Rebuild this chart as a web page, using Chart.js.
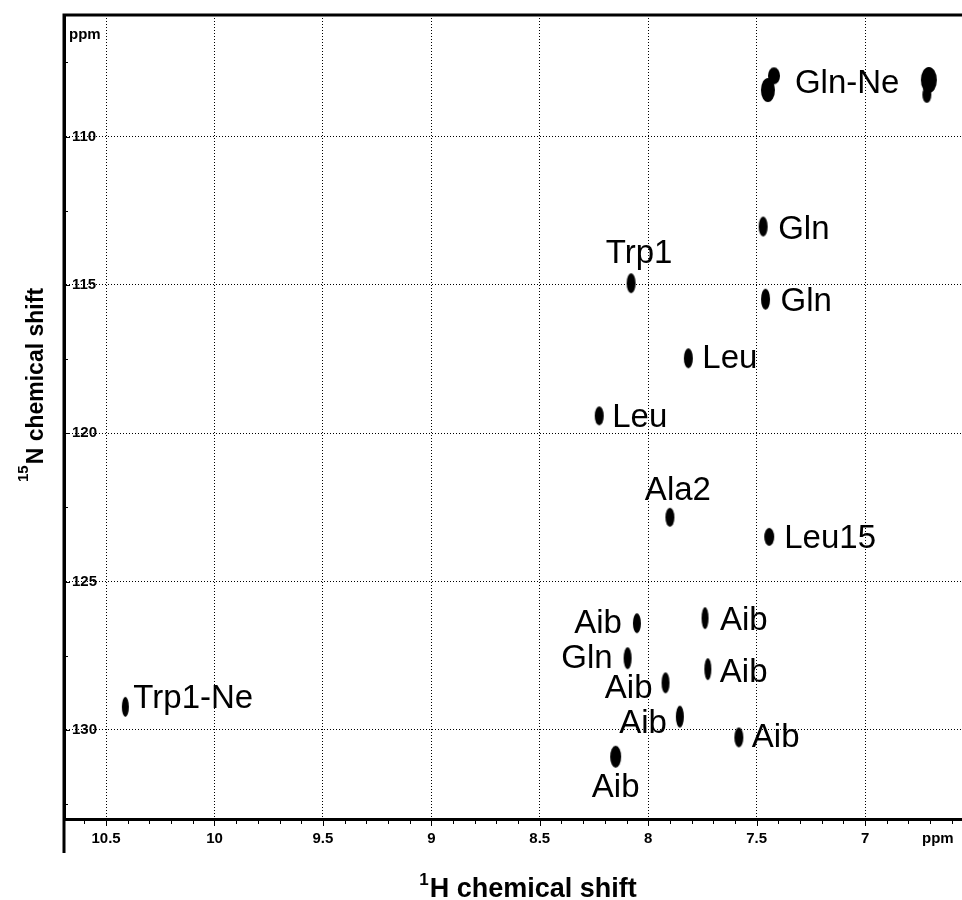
<!DOCTYPE html>
<html>
<head>
<meta charset="utf-8">
<title>1H-15N HSQC</title>
<script src="https://cdn.jsdelivr.net/npm/chart.js@4.4.1/dist/chart.umd.min.js"></script>
<style>
  html, body { margin: 0; padding: 0; background: #fff; }
  #wrap { width: 962px; height: 900px; position: relative; }
</style>
</head>
<body>
<div id="wrap"><canvas id="hsqc"></canvas></div>
<script>
// ── Data ─────────────────────────────────────────────────────
const peakNames = ['Gln-Ne', '', '', '', 'Gln', 'Gln', 'Trp1', 'Leu', 'Leu', 'Ala2', 'Leu15',
                   'Aib', 'Aib', 'Gln', 'Aib', 'Aib', 'Aib', 'Aib', 'Aib', 'Trp1-Ne'];
const shiftH = [7.448, 7.420, 6.706, 6.715, 7.470, 7.459, 8.079, 7.815, 8.226, 7.900, 7.442,
                8.052, 7.738, 8.095, 7.725, 7.920, 7.854, 7.582, 8.150, 10.411];
const shiftN = [108.43, 107.95, 108.09, 108.59, 113.03, 115.48, 114.94, 117.47, 119.41, 122.83, 123.49,
                126.40, 126.23, 127.58, 127.95, 128.41, 129.55, 130.25, 130.90, 129.22];
const hTicks = [10.5, 10, 9.5, 9, 8.5, 8, 7.5, 7];
const nTicks = [110, 115, 120, 125, 130];

// ── Look (blob size in px, label offset from peak in px) ─────
const blobSize = [[14, 24], [12, 17], [16, 26], [9, 16], [9, 20], [9, 21], [9, 20], [9, 20], [9, 19], [9, 19], [10, 18],
                  [8, 20], [7, 22], [8, 22], [7, 22], [8, 21], [8, 22], [9, 20], [11, 22], [7, 20]];
const labelPos = [[27, 3, 'left'], null, null, null, [15, 12, 'left'], [15, 12, 'left'], [8, -20, 'center'],
                  [14, 10, 'left'], [13, 11, 'left'], [8, -17, 'center'], [15, 11, 'left'],
                  [-15, 10, 'right'], [15, 12, 'left'], [-15, 10, 'right'], [12, 13, 'left'], [-13, 15, 'right'],
                  [-13, 16, 'right'], [13, 10, 'left'], [0, 40, 'center'], [8, 1, 'left']];

const FONT = '"Liberation Sans", Arial, Helvetica, sans-serif';

function blob(w, h) {
  const c = document.createElement('canvas');
  c.width = w + 2;
  c.height = h + 2;
  const g = c.getContext('2d');
  g.fillStyle = '#000';
  g.beginPath();
  g.ellipse(c.width / 2, c.height / 2, w / 2, h / 2, 0, 0, Math.PI * 2);
  g.fill();
  return c;
}

// ── Extra drawing: frame, minor ticks, titles, peak labels ───
const decor = {
  id: 'decor',
  afterDraw(chart) {
    const { ctx, chartArea: a, scales: { x, y } } = chart;
    ctx.save();
    ctx.strokeStyle = '#000';
    ctx.fillStyle = '#000';

    // top edge and the long left edge
    ctx.lineWidth = 3;
    ctx.beginPath();
    ctx.moveTo(a.left - 1.5, a.top);
    ctx.lineTo(chart.width, a.top);
    ctx.moveTo(a.left, a.top);
    ctx.lineTo(a.left, 853);
    ctx.stroke();

    // x ticks every 0.1 ppm, pointing down
    ctx.lineWidth = 1;
    ctx.beginPath();
    for (let i = 66; i <= 106; i++) {
      const px = Math.round(x.getPixelForValue(i / 10)) + 0.5;
      const len = i % 5 === 0 ? 6 : 4;
      ctx.moveTo(px, a.bottom + 1);
      ctx.lineTo(px, a.bottom + 1 + len);
    }
    // y ticks, pointing in
    for (let v = 107.5; v <= 132.5; v += 2.5) {
      const py = Math.round(y.getPixelForValue(v)) + 0.5;
      const len = v % 5 === 0 ? 5 : 3;
      ctx.moveTo(a.left + 1, py);
      ctx.lineTo(a.left + 1 + len, py);
    }
    ctx.stroke();

    // ppm units
    ctx.font = 'bold 15px ' + FONT;
    ctx.textAlign = 'left';
    ctx.textBaseline = 'alphabetic';
    ctx.fillText('ppm', 69, 39);
    ctx.fillText('ppm', 922, 843);

    // 1H title
    ctx.font = 'bold 17px ' + FONT;
    const w1 = ctx.measureText('1').width;
    ctx.font = 'bold 27px ' + FONT;
    const wx = ctx.measureText('H chemical shift').width;
    let sx = 528 - (w1 + 1 + wx) / 2;
    ctx.font = 'bold 17px ' + FONT;
    ctx.fillText('1', sx, 885);
    ctx.font = 'bold 27px ' + FONT;
    ctx.fillText('H chemical shift', sx + w1 + 1, 897);

    // 15N title
    ctx.save();
    ctx.translate(43, 385);
    ctx.rotate(-Math.PI / 2);
    ctx.font = 'bold 15px ' + FONT;
    const w15 = ctx.measureText('15').width;
    ctx.font = 'bold 23px ' + FONT;
    const wy = ctx.measureText('N chemical shift').width;
    sx = -(w15 + 1 + wy) / 2;
    ctx.font = 'bold 15px ' + FONT;
    ctx.fillText('15', sx, -15);
    ctx.font = 'bold 23px ' + FONT;
    ctx.fillText('N chemical shift', sx + w15 + 1, 0);
    ctx.restore();

    // peak labels
    ctx.font = '33px ' + FONT;
    peakNames.forEach((name, i) => {
      const p = labelPos[i];
      if (!name || !p) return;
      const px = x.getPixelForValue(shiftH[i]);
      const py = y.getPixelForValue(shiftN[i]);
      ctx.textAlign = p[2];
      ctx.fillText(name, px + p[0], py + p[1]);
    });
    ctx.restore();
  }
};

// ── Chart ────────────────────────────────────────────────────
new Chart(document.getElementById('hsqc'), {
  type: 'scatter',
  data: {
    datasets: [{
      data: shiftH.map((h, i) => ({ x: h, y: shiftN[i] })),
      pointStyle: blobSize.map(s => blob(s[0], s[1])),
      pointRadius: 3,
      showLine: false
    }]
  },
  options: {
    responsive: true,
    maintainAspectRatio: false,
    animation: false,
    events: [],
    layout: { autoPadding: false, padding: { top: 15, right: 0, left: 0, bottom: 0 } },
    plugins: { legend: { display: false }, tooltip: { enabled: false } },
    scales: {
      x: {
        type: 'linear',
        position: 'bottom',
        reverse: true,
        min: 6.553,
        max: 10.694,
        afterBuildTicks: s => { s.ticks = hTicks.map(v => ({ value: v })); },
        afterFit: s => { s.height = 81; s.paddingLeft = 0; s.paddingRight = 0; },
        ticks: {
          color: '#000',
          padding: 11,
          maxRotation: 0,
          autoSkip: false,
          font: { family: FONT, size: 15, weight: 'bold' },
          callback: v => String(v)
        },
        grid: { color: '#000', lineWidth: 1, drawTicks: false },
        border: { display: true, color: '#000', width: 3, dash: [1, 2] }
      },
      y: {
        type: 'linear',
        position: 'left',
        reverse: true,
        min: 105.9,
        max: 133.0,
        afterBuildTicks: s => { s.ticks = nTicks.map(v => ({ value: v })); },
        afterFit: s => { s.width = 64; s.paddingTop = 0; s.paddingBottom = 0; },
        ticks: {
          color: '#000',
          mirror: true,
          padding: 8,
          autoSkip: false,
          font: { family: FONT, size: 15, weight: 'bold' },
          callback: v => String(v)
        },
        grid: { color: '#000', lineWidth: 1, drawTicks: false },
        border: { display: true, color: '#000', width: 3, dash: [1, 2] }
      }
    }
  },
  plugins: [decor]
});
</script>
</body>
</html>
